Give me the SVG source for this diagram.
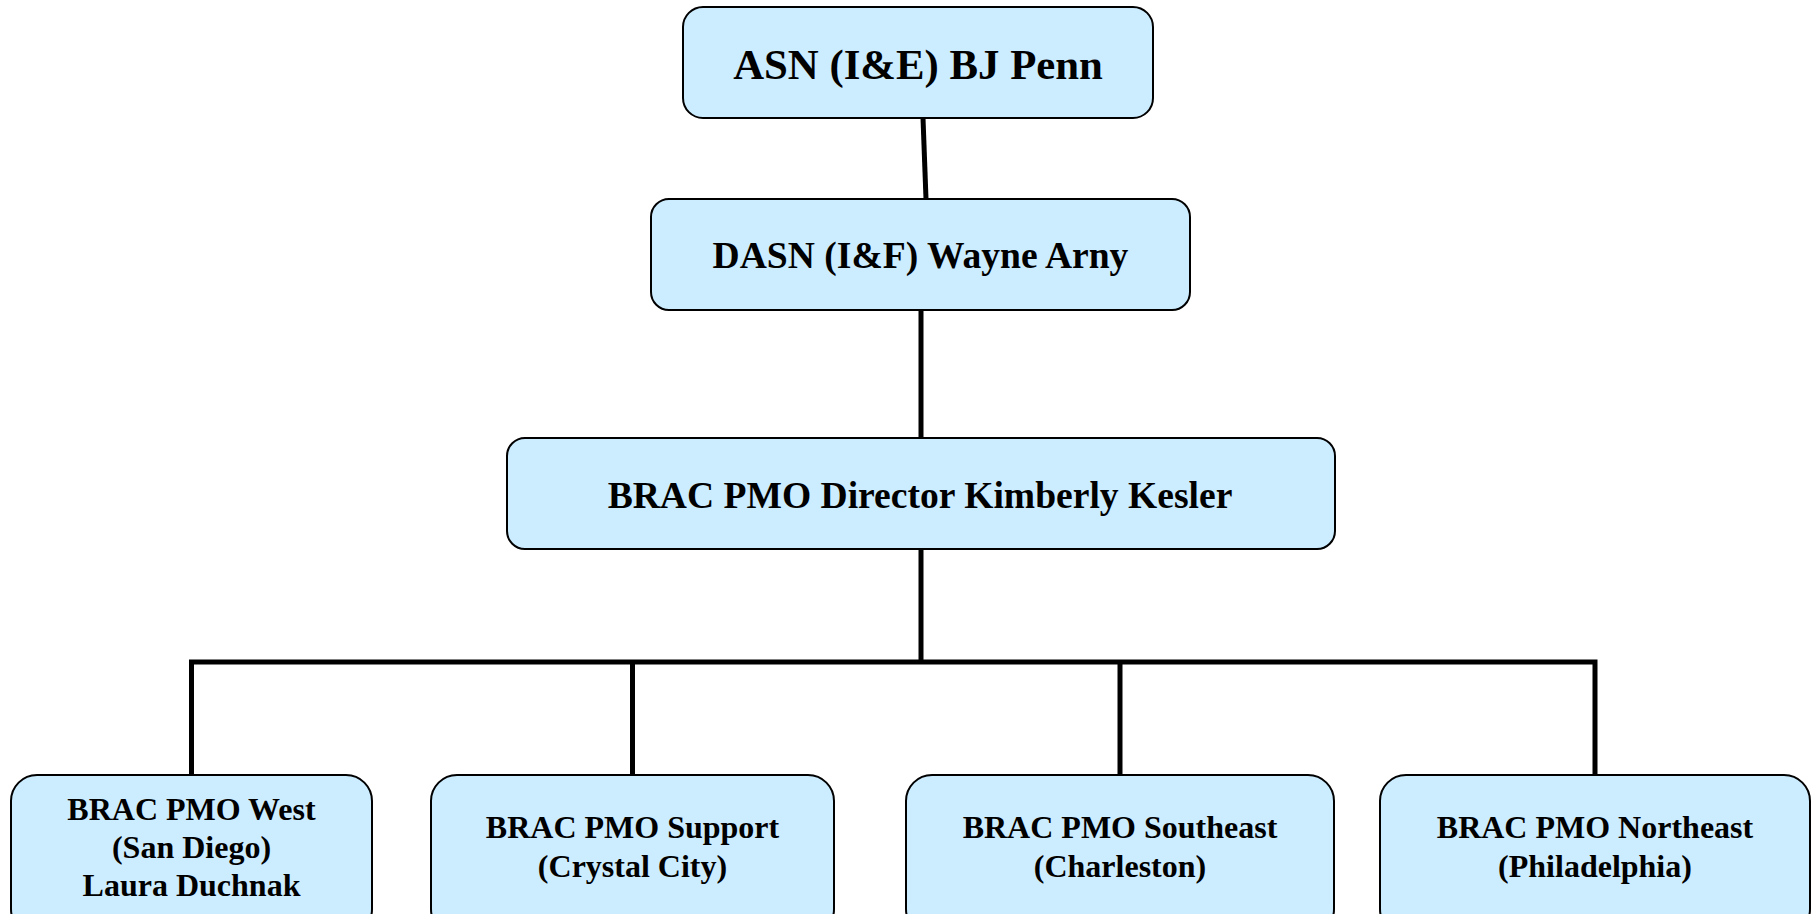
<svg xmlns="http://www.w3.org/2000/svg" width="1813" height="914" viewBox="0 0 1813 914">
<style>
.box{fill:#CCECFF;stroke:#000;stroke-width:2}
.t{font-family:"Liberation Serif","Times New Roman",serif;font-weight:bold;fill:#000;text-anchor:middle}
.c{fill:none;stroke:#000;stroke-width:5;stroke-linecap:butt}
</style>
<rect width="1813" height="914" fill="#fff"/>
<g id="connectors">
<line class="c" x1="923" y1="118" x2="926" y2="199"/>
<line class="c" x1="921" y1="310" x2="921" y2="438"/>
<line class="c" x1="921" y1="549" x2="921" y2="662"/>
<polyline class="c" points="191.5,775 191.5,662 1595,662 1595,775"/>
<line class="c" x1="632.5" y1="662" x2="632.5" y2="775"/>
<line class="c" x1="1120" y1="662" x2="1120" y2="775"/>
</g>
<g id="asn">
<rect class="box" x="683" y="7" width="470" height="111" rx="20" ry="20"/>
<text class="t" x="918" y="79" font-size="42.8">ASN (I&amp;E) BJ Penn</text>
</g>
<g id="dasn">
<rect class="box" x="651" y="199" width="539" height="111" rx="18" ry="18"/>
<text class="t" x="920.5" y="268" font-size="37.6">DASN (I&amp;F) Wayne Arny</text>
</g>
<g id="director">
<rect class="box" x="507" y="438" width="828" height="111" rx="18" ry="18"/>
<text class="t" x="920" y="508" font-size="37.6">BRAC PMO Director Kimberly Kesler</text>
</g>
<g id="west">
<rect class="box" x="11" y="775" width="361" height="160" rx="26" ry="26"/>
<text class="t" x="191.5" font-size="32"><tspan x="191.5" y="820">BRAC PMO West</tspan><tspan x="191.5" y="858">(San Diego)</tspan><tspan x="191.5" y="896">Laura Duchnak</tspan></text>
</g>
<g id="support">
<rect class="box" x="431" y="775" width="403" height="160" rx="26" ry="26"/>
<text class="t" x="632.5" font-size="32"><tspan x="632.5" y="838">BRAC PMO Support</tspan><tspan x="632.5" y="877">(Crystal City)</tspan></text>
</g>
<g id="southeast">
<rect class="box" x="906" y="775" width="428" height="160" rx="26" ry="26"/>
<text class="t" x="1120" font-size="32"><tspan x="1120" y="838">BRAC PMO Southeast</tspan><tspan x="1120" y="877">(Charleston)</tspan></text>
</g>
<g id="northeast">
<rect class="box" x="1380" y="775" width="430" height="160" rx="26" ry="26"/>
<text class="t" x="1595" font-size="32"><tspan x="1595" y="838">BRAC PMO Northeast</tspan><tspan x="1595" y="877">(Philadelphia)</tspan></text>
</g>
</svg>
